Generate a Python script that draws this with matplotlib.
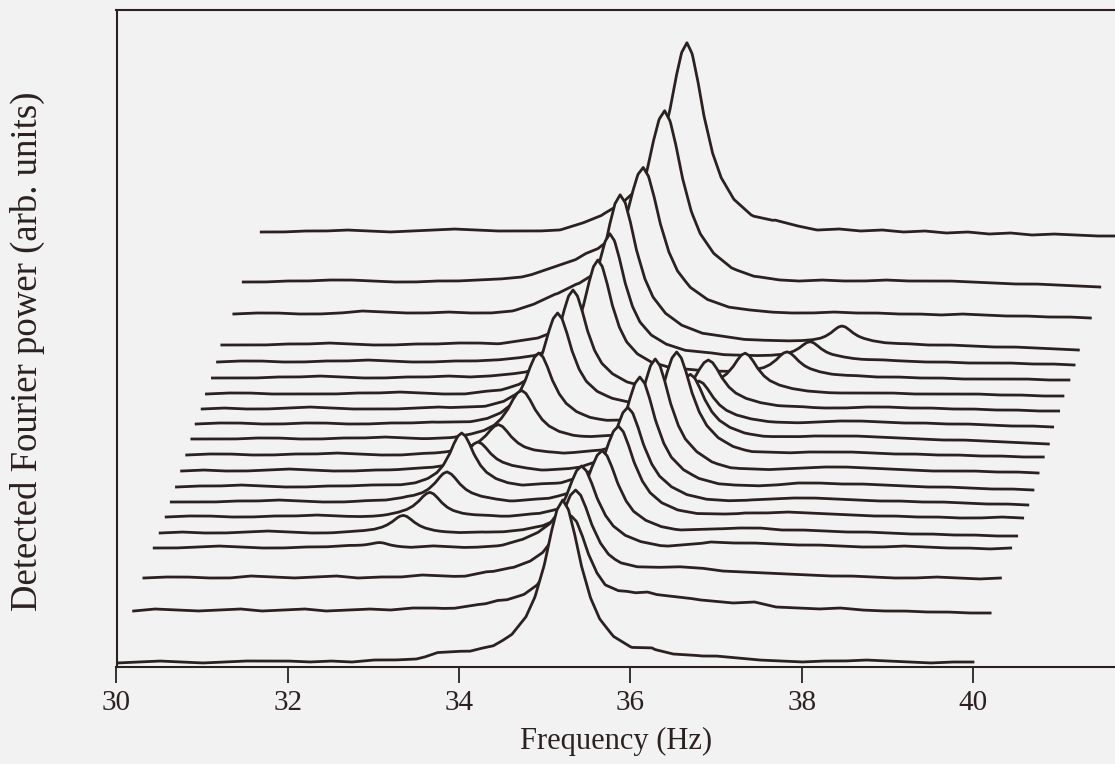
import matplotlib
matplotlib.use("Agg")
import matplotlib.pyplot as plt
import numpy as np

# waterfall of spectra, front (index 0) to back (index 19)
# screen shift of each trace (Hz) and vertical offset (arb. units, = px)
x_shift = [0.00, 0.20, 0.32, 0.44, 0.51, 0.58, 0.64, 0.70, 0.76, 0.82,
           0.88, 0.93, 1.00, 1.05, 1.12, 1.18, 1.23, 1.37, 1.48, 1.69]
offset = [4, 56, 89, 119, 134, 150, 165, 180, 196, 212,
          228, 243, 258, 273, 289, 305, 322, 353, 385, 435]

# baseline wiggle of each trace, local frequency 30..40 Hz every 0.25 Hz
ripple = [
    [0, 1, 2, 1, 0, 1, 2, 2, 2, 1, 2, 1, 3, 3, 4, 9, 8, 6, 3, 2, 0, 0, 0, 0, 2, 9, 6, 7, 7, 5, 3, 2, 1, 2, 2, 3, 2, 1, 0, 1, 1],
    [0, 2, 1, 0, 1, 2, 0, 1, 2, 0, 1, 2, 1, 3, 3, 2, 4, 5, 2, 0, 0, 0, 0, 8, 14, 13, 12, 10, 8, 9, 4, 3, 2, 3, 1, 0, 0, -1, -1, -2, -2],
    [0, 1, 1, 0, 0, 2, 1, 0, 1, 2, 0, 1, 1, 3, 2, 1, 4, 4, 3, 1, 0, 0, 0, 4, 8, 10, 10, 7, 6, 5, 4, 3, 2, 2, 1, 0, 0, 1, 0, -1, 0],
    [0, 0, 1, 2, 1, 0, 0, 1, 1, 2, 1, 0, 0, 2, 1, 0, 0, 2, 3, 3, 2, 1, 0, 0, 0, 3, 6, 5, 5, 4, 3, 3, 2, 1, 1, 2, 1, 0, 0, -1, 0],
    [0, 1, 0, 0, 1, 2, 1, 0, 0, 1, 1, 2, 1, 0, 0, 1, 0, 1, 1, 2, 3, 2, 0, 0, 0, 2, 4, 5, 5, 3, 3, 2, 1, 1, 0, -1, -1, -2, -2, -3, -3],
    [0, 1, 1, 0, 0, 1, 1, 2, 1, 0, 0, 1, 1, 0, 0, 1, 0, 1, 1, 2, 4, 2, 1, 0, 0, 1, 2, 4, 4, 5, 4, 3, 2, 1, 1, 0, 0, -1, -1, 0, -1],
    [0, 0, 0, 1, 1, 2, 1, 0, 0, 1, 1, 2, 1, 0, 1, 1, 0, 1, 1, 2, 3, 3, 2, 1, 0, 0, 0, 2, 3, 4, 4, 3, 2, 1, 1, 0, 0, -1, -2, -2, -3],
    [0, 1, 1, 2, 1, 0, 0, 1, 1, 2, 1, 0, 0, 1, 1, 0, 0, 1, 1, 2, 2, 3, 3, 1, 0, 0, 0, 1, 2, 4, 4, 3, 3, 2, 1, 0, 0, -1, -2, -2, -3],
    [0, 1, 0, 0, 1, 2, 1, 0, 0, 1, 1, 2, 1, 0, 0, 1, 1, 0, 0, 1, 2, 3, 3, 3, 2, 0, 0, 1, 2, 3, 4, 4, 3, 2, 1, 0, 0, 0, -1, -1, -2],
    [0, 1, 1, 0, 0, 1, 1, 2, 1, 0, 0, 1, 1, 2, 1, 0, 0, 1, 1, 2, 2, 3, 3, 3, 3, 1, 0, 1, 2, 3, 3, 3, 2, 1, 1, 0, 0, -1, -1, -2, -2],
    [0, 0, 0, 1, 1, 0, 0, 1, 1, 2, 1, 0, 0, 1, 1, 2, 1, 0, 0, 1, 2, 3, 4, 4, 3, 2, 1, 1, 2, 3, 3, 3, 2, 1, 0, -1, -1, -2, -3, -4, -5],
    [0, 1, 1, 0, 0, 1, 1, 0, 0, 1, 1, 2, 1, 0, 0, 1, 1, 2, 1, 1, 2, 3, 3, 4, 4, 3, 2, 1, 1, 2, 3, 3, 2, 1, 1, 0, 0, -1, -2, -2, -3],
    [0, 1, 0, 0, 1, 2, 1, 0, 0, 0, 1, 2, 1, 0, 0, 1, 1, 1, 2, 3, 3, 4, 4, 5, 5, 4, 3, 2, 2, 1, 1, 2, 2, 1, 1, 0, 0, -1, -1, -2, -2],
    [0, 1, 1, 0, 0, 0, 0, 1, 1, 2, 1, 0, 0, 1, 1, 2, 2, 3, 3, 4, 4, 5, 5, 6, 6, 5, 4, 3, 2, 1, 1, 1, 1, 0, 0, 0, 0, -1, -1, -2, -2],
    [0, 0, 0, 1, 1, 2, 1, 0, 0, 1, 1, 2, 1, 2, 2, 3, 3, 4, 4, 5, 6, 7, 7, 7, 6, 5, 4, 3, 3, 2, 2, 1, 1, 0, 0, -1, -1, -1, -1, -2, -2],
    [0, 1, 1, 0, 0, 1, 1, 2, 1, 0, 0, 1, 1, 2, 2, 3, 3, 4, 5, 6, 7, 8, 8, 8, 7, 6, 5, 4, 3, 3, 2, 2, 1, 0, 0, -1, -1, -1, -2, -2, -3],
    [0, 0, 0, 1, 1, 2, 1, 0, 0, 1, 1, 2, 2, 1, 2, 3, 4, 6, 8, 10, 10, 9, 8, 7, 6, 5, 4, 3, 2, 2, 2, 1, 1, 0, 0, -1, -2, -2, -3, -4, -5],
    [0, 1, 1, 0, 0, 1, 3, 2, 1, 1, 2, 1, 1, 3, 8, 16, 20, 20, 18, 14, 10, 6, 4, 3, 2, 2, 1, 1, 2, 1, 1, 0, 0, -1, 0, -1, -2, -2, -3, -3, -4],
    [0, 0, 1, 1, 2, 2, 1, 0, 0, 1, 1, 2, 3, 5, 10, 15, 20, 21, 18, 14, 10, 6, 3, 1, 1, 0, 1, 2, 1, 1, 2, 1, 1, 1, 0, -1, -2, -2, -3, -4, -5],
    [0, 0, 1, 1, 2, 1, 0, 1, 2, 3, 2, 1, 1, 1, 2, 6, 12, 16, 18, 18, 16, 10, 5, 3, 7, 4, 2, 3, 1, 2, 0, 1, -1, 0, -2, -1, -3, -2, -3, -4, -4],
]

# lower-frequency branch: screen position of apex (Hz), height, half width (Hz)
left_f = [None, None, None, 33.08, 33.35, 33.66, 33.86, 34.03, 34.22, 34.46,
          34.73, 34.93, 35.15, 35.33, 35.62, 35.76, 35.88, 36.15, 36.40, 36.66]
left_h = [0, 0, 0, 5, 16, 24, 30, 53, 29, 30,
          47, 70, 95, 101, 114, 123, 141, 133, 160, 173]
left_w = [0.2, 0.2, 0.2, 0.15, 0.16, 0.17, 0.18, 0.18, 0.18, 0.19,
          0.2, 0.2, 0.21, 0.21, 0.21, 0.22, 0.24, 0.25, 0.26, 0.25]

# higher-frequency branch
right_f = [35.21, 35.31, 35.36, 35.43, 35.67, 35.86, 35.97, 36.11, 36.29, 36.54,
           36.70, 36.80, 36.91, 37.34, 37.83, 38.10, 38.47, None, None, None]
right_h = [163, 95, 88, 80, 80, 89, 92, 107, 109, 100,
           61, 39, 44, 36, 23, 17, 17, 0, 0, 0]
right_w = [0.27, 0.25, 0.24, 0.23, 0.23, 0.23, 0.23, 0.23, 0.22, 0.22,
           0.21, 0.2, 0.2, 0.18, 0.17, 0.16, 0.16, 0.2, 0.2, 0.2]

# line profile: distance in half widths -> fraction of height
prof_d = [-6, -4, -3, -2.2, -1.6, -1.2, -0.8, -0.5, -0.25, 0,
          0.25, 0.5, 0.8, 1.2, 1.6, 2.2, 3, 4, 6]
prof_a = [0, 0.03, 0.08, 0.16, 0.27, 0.4, 0.6, 0.8, 0.94, 1,
          0.94, 0.8, 0.6, 0.4, 0.27, 0.16, 0.08, 0.03, 0]

ink = "#2b2121"
paper = "#f3f2f2"

plt.rcParams["font.family"] = ["Liberation Serif", "DejaVu Serif"]

fig = plt.figure(figsize=(11.15, 7.64), dpi=100, facecolor=paper)
ax = fig.add_axes([116.5 / 1115, 97 / 764, 1 - 116.5 / 1115, 657 / 764])
ax.set_facecolor(paper)

grid = np.linspace(30, 40, 41)
pd = np.array(prof_d)
for i in reversed(range(len(offset))):
    xl = np.arange(30, 40.0001, 0.01)
    xs = xl + x_shift[i]
    y = np.interp(xl, grid, ripple[i])
    for f, h, w in ((left_f[i], left_h[i], left_w[i]), (right_f[i], right_h[i], right_w[i])):
        if f is None:
            continue
        y = y + h * np.interp(xs, f + w * pd, prof_a, left=0, right=0)
    y = y + offset[i]
    z = 2 * (len(offset) - i)
    ax.fill_between(xs, y, 0, color=paper, lw=0, zorder=z)
    ax.plot(xs, y, color=ink, lw=2.0, zorder=z + 1, solid_joinstyle="round")

ax.set_xlim(30, 30 + (1115 - 116.5) / 85.65)
ax.set_ylim(0, 657)
ax.set_xticks([30, 32, 34, 36, 38, 40])
ax.set_yticks([])
ax.tick_params(axis="x", direction="out", length=11.5, width=1.3, color=ink,
               labelsize=21, labelcolor=ink, pad=5)
for side in ("left", "bottom", "top"):
    ax.spines[side].set_linewidth(1.5)
    ax.spines[side].set_color(ink)
    ax.spines[side].set_zorder(100)
ax.spines["right"].set_visible(False)

ax.set_xlabel("Frequency (Hz)", fontsize=22, color=ink, labelpad=8)
ax.set_ylabel("Detected Fourier power (arb. units)", fontsize=26.5, color=ink)
ax.yaxis.set_label_coords(-0.0716, 0.48)

fig.savefig("out.png", dpi=100, facecolor=paper)
